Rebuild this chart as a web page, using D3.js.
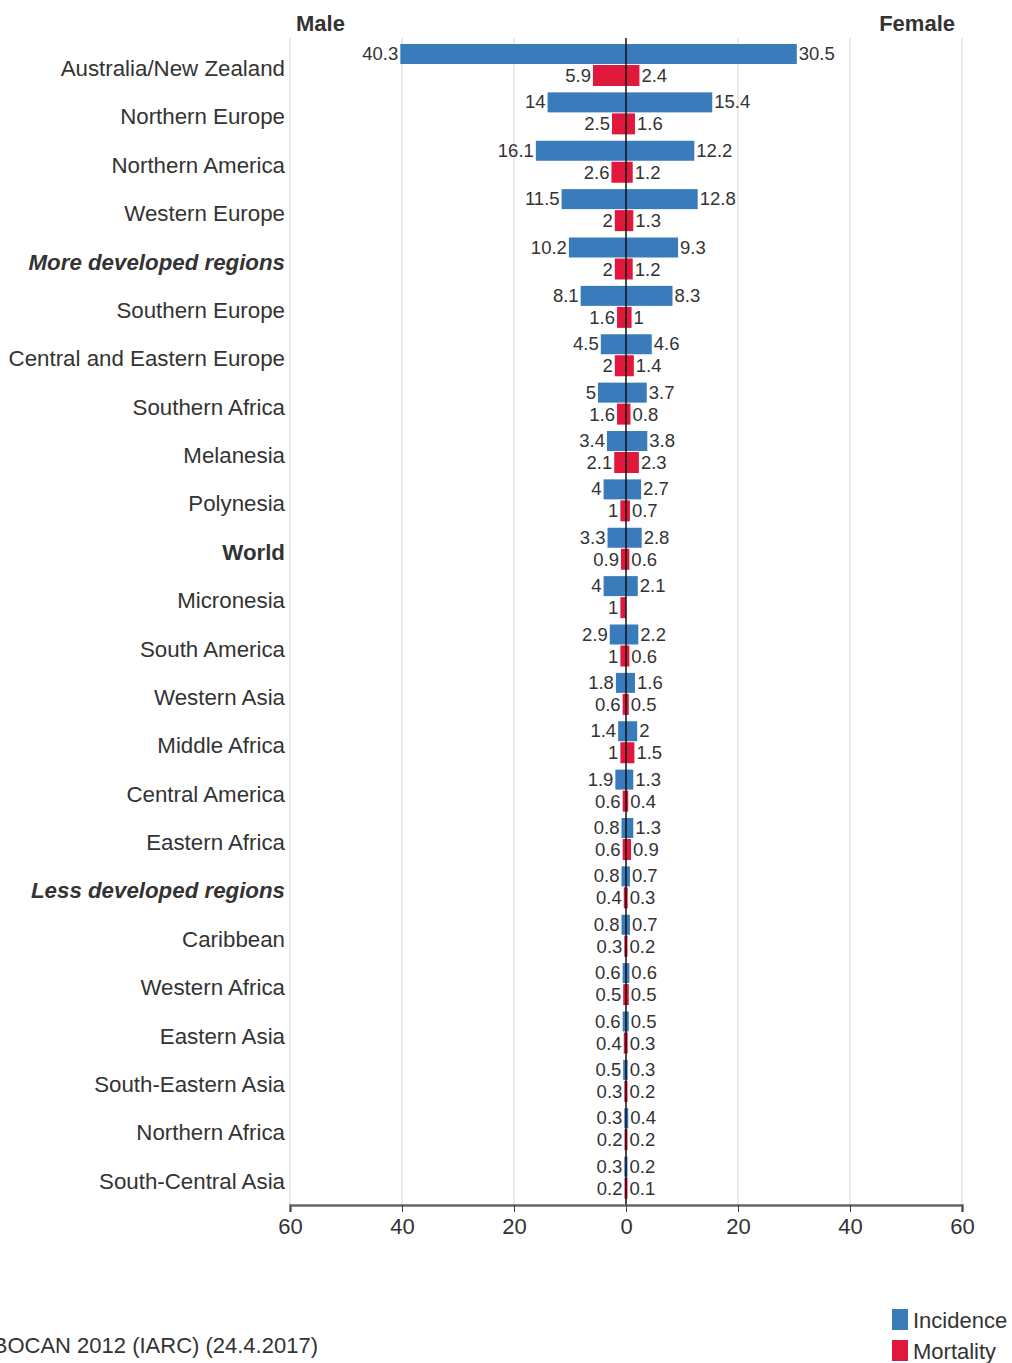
<!DOCTYPE html>
<html>
<head>
<meta charset="utf-8">
<script src="https://cdn.jsdelivr.net/npm/d3@7"></script>
<style>
  body { margin: 0; background: #fff; }
  svg text { font-family: "Liberation Sans", Arial, sans-serif; fill: #333; }
</style>
</head>
<body>
<div id="chart"></div>
<script>
// regions, top to bottom
var regions = ["Australia/New Zealand","Northern Europe","Northern America","Western Europe",
  "More developed regions","Southern Europe","Central and Eastern Europe","Southern Africa",
  "Melanesia","Polynesia","World","Micronesia","South America","Western Asia","Middle Africa",
  "Central America","Eastern Africa","Less developed regions","Caribbean","Western Africa",
  "Eastern Asia","South-Eastern Asia","Northern Africa","South-Central Asia"]
var incMale   = [40.3,14,16.1,11.5,10.2,8.1,4.5,5,3.4,4,3.3,4,2.9,1.8,1.4,1.9,0.8,0.8,0.8,0.6,0.6,0.5,0.3,0.3]
var incFemale = [30.5,15.4,12.2,12.8,9.3,8.3,4.6,3.7,3.8,2.7,2.8,2.1,2.2,1.6,2,1.3,1.3,0.7,0.7,0.6,0.5,0.3,0.4,0.2]
var morMale   = [5.9,2.5,2.6,2,2,1.6,2,1.6,2.1,1,0.9,1,1,0.6,1,0.6,0.6,0.4,0.3,0.5,0.4,0.3,0.2,0.2]
var morFemale = [2.4,1.6,1.2,1.3,1.2,1,1.4,0.8,2.3,0.7,0.6,null,0.6,0.5,1.5,0.4,0.9,0.3,0.2,0.5,0.3,0.2,0.2,0.1]
var tickVals = [-60,-40,-20,0,20,40,60]
var legendItems = ["Incidence","Mortality"]

var boldItalic = ["More developed regions","Less developed regions"]
var boldOnly = ["World"]

var W = 1012, H = 1363
var blue = "#3a7bbb", red = "#e0183c"

var svg = d3.select("#chart").append("svg").attr("width", W).attr("height", H)

var x = d3.scaleLinear().domain([-60,60]).range([290,962])
var y = d3.scaleBand().domain(regions).range([43,1204])

// grid
svg.selectAll("line.grid").data(tickVals.filter(function(d){return d!=0}))
  .enter().append("line")
  .attr("class","grid")
  .attr("x1", function(d){return x(d)}).attr("x2", function(d){return x(d)})
  .attr("y1", 38).attr("y2", 1205)
  .attr("stroke", "#dcdcdc").attr("stroke-width", 1.2)

var bw = function(v){ return Math.max(Math.abs(x(v)-x(0)), v ? 1.5 : 0) }

var rows = svg.selectAll("g.row").data(regions).enter().append("g")
  .attr("class","row")
  .attr("transform", function(d){return "translate(0,"+y(d)+")"})

// incidence bars
rows.append("rect").attr("x", function(d,i){return x(0)-bw(incMale[i])}).attr("y", 1)
  .attr("width", function(d,i){return bw(incMale[i])}).attr("height", 20).attr("fill", blue)
rows.append("rect").attr("x", x(0)).attr("y", 1)
  .attr("width", function(d,i){return bw(incFemale[i])}).attr("height", 20).attr("fill", blue)
// mortality bars
rows.append("rect").attr("x", function(d,i){return x(0)-bw(morMale[i])}).attr("y", 22)
  .attr("width", function(d,i){return bw(morMale[i])}).attr("height", 21).attr("fill", red)
rows.append("rect").attr("x", x(0)).attr("y", 22)
  .attr("width", function(d,i){return morFemale[i]==null ? 0 : bw(morFemale[i])}).attr("height", 21).attr("fill", red)

// value labels
function valLabel(arr, side, yy){
  rows.append("text")
    .attr("x", function(d,i){ return side<0 ? x(0)-bw(arr[i])-2 : x(0)+bw(arr[i])+2 })
    .attr("y", yy)
    .attr("text-anchor", side<0 ? "end" : "start")
    .attr("font-size", 18.5)
    .text(function(d,i){ return arr[i]==null ? "" : arr[i] })
}
valLabel(incMale, -1, 17)
valLabel(incFemale, 1, 17)
valLabel(morMale, -1, 39)
valLabel(morFemale, 1, 39)

// row names
rows.append("text")
  .attr("x", 285).attr("y", 33)
  .attr("text-anchor","end")
  .attr("font-size", 22.3)
  .attr("font-weight", function(d){return (boldItalic.indexOf(d)>=0||boldOnly.indexOf(d)>=0) ? "bold" : "normal"})
  .attr("font-style", function(d){return boldItalic.indexOf(d)>=0 ? "italic" : "normal"})
  .text(function(d){return d})

// zero line
svg.append("line").attr("x1", x(0)).attr("x2", x(0)).attr("y1", 38).attr("y2", 1205)
  .attr("stroke", "#111").attr("stroke-width", 1.5)

// axis
var axis = d3.axisBottom(x).tickValues(tickVals).tickSize(7).tickPadding(6)
  .tickFormat(function(d){return Math.abs(d)})
var ag = svg.append("g").attr("transform","translate(0,1205)").call(axis)
ag.select(".domain").attr("stroke","#666").attr("stroke-width",2.5)
ag.selectAll(".tick line").attr("stroke","#444")
ag.selectAll(".tick text").attr("font-size",22).attr("fill","#333")
  .style("font-family","'Liberation Sans', Arial, sans-serif")

// headings
svg.append("text").attr("x", 296).attr("y", 31).attr("font-size", 22).attr("font-weight","bold").text("Male")
svg.append("text").attr("x", 955).attr("y", 31).attr("text-anchor","end").attr("font-size", 22).attr("font-weight","bold").text("Female")

// source
svg.append("text").attr("x", 318).attr("y", 1353).attr("text-anchor","end").attr("font-size", 22)
  .text("Source: GLOBOCAN 2012 (IARC) (24.4.2017)")

// legend
var lg = svg.selectAll("g.leg").data(legendItems).enter().append("g").attr("class","leg")
  .attr("transform", function(d,i){return "translate(892,"+(1309+i*31)+")"})
lg.append("rect").attr("width",16).attr("height",21).attr("fill", function(d,i){return i==0?blue:red})
lg.append("text").attr("x",21).attr("y",19).attr("font-size",22).text(function(d){return d})
</script>
</body>
</html>
